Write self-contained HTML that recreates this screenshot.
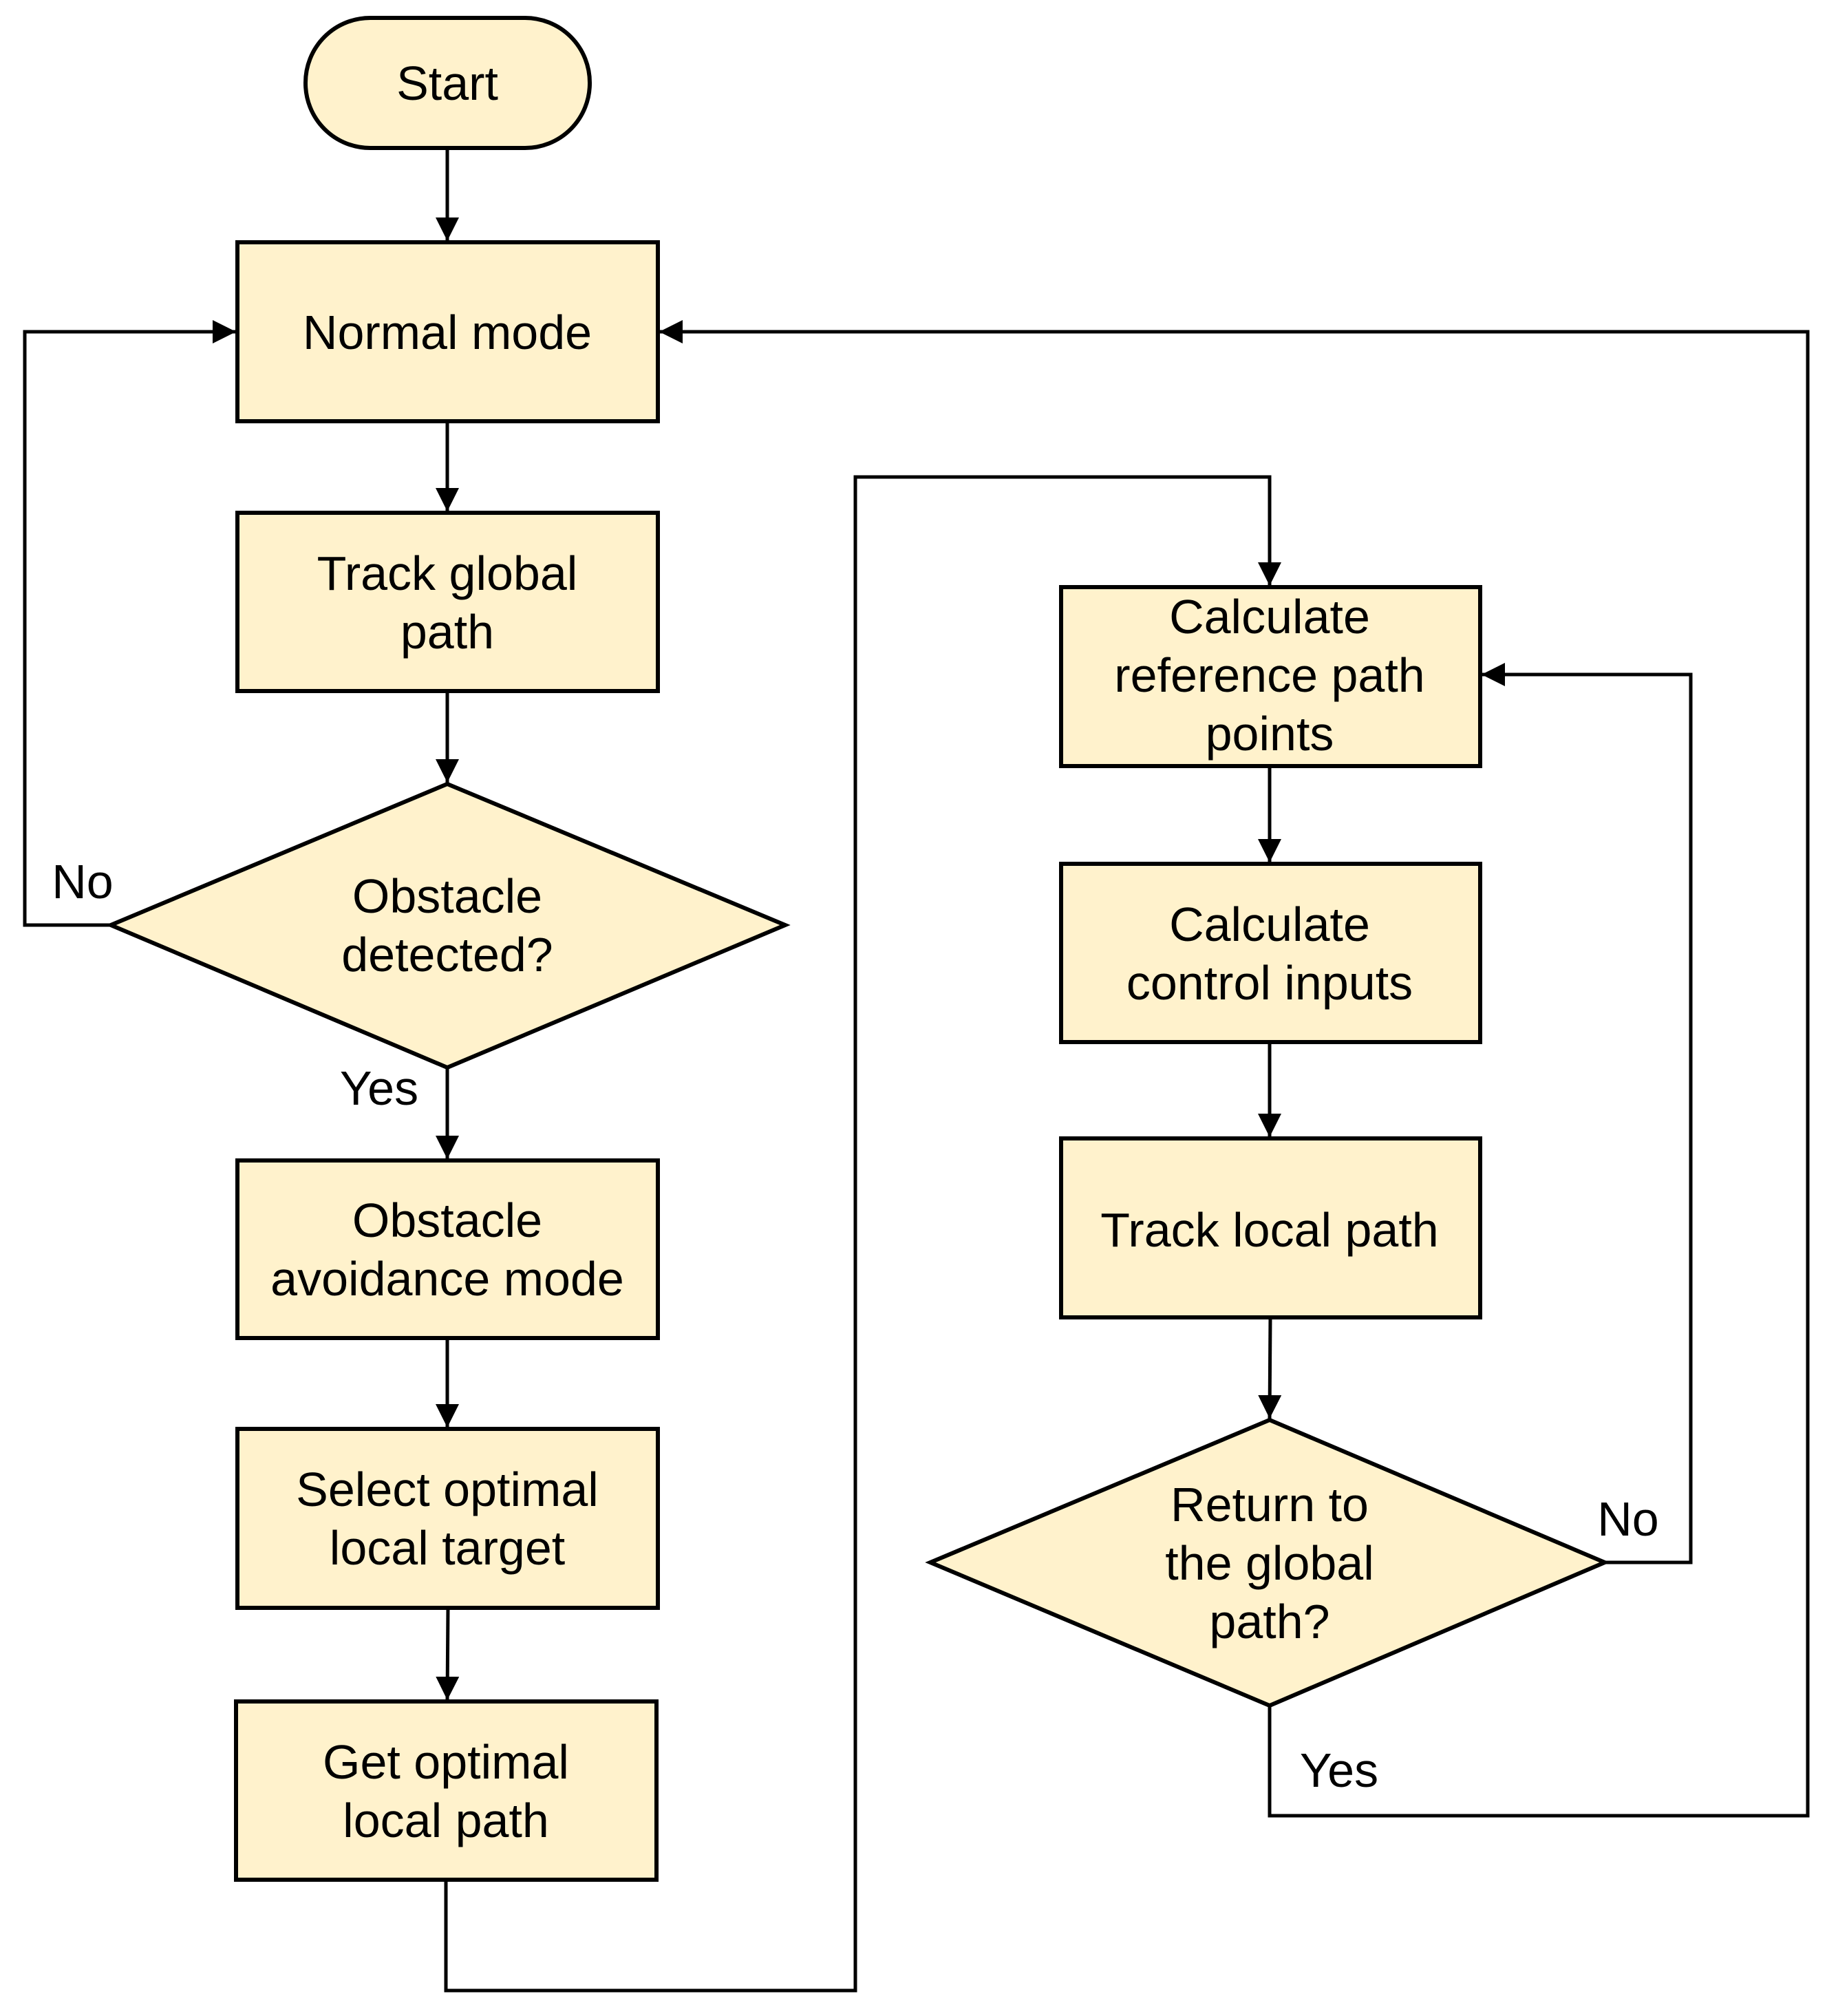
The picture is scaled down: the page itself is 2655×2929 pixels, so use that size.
<!DOCTYPE html>
<html><head><meta charset="utf-8"><style>
html,body{margin:0;padding:0;background:#fff}
svg{display:block}
text{font-family:"Liberation Sans",Arial,sans-serif;font-size:70px;fill:#000;text-anchor:middle}
</style></head><body>
<svg width="2655" height="2929" viewBox="0 0 2655 2929" xmlns="http://www.w3.org/2000/svg">
<defs>
<marker id="b" markerWidth="34" markerHeight="34" refX="34" refY="17" orient="auto" markerUnits="userSpaceOnUse" viewBox="0 0 34 34"><path d="M0,0 L34,17 L0,34 z" fill="#000"/></marker></defs>
<g stroke="#000" stroke-width="5" fill="none">
<line x1="650" y1="215" x2="650" y2="350" marker-end="url(#b)"/>
<line x1="650" y1="612" x2="650" y2="743" marker-end="url(#b)"/>
<line x1="650" y1="1004" x2="650" y2="1137" marker-end="url(#b)"/>
<line x1="650" y1="1551" x2="650" y2="1684" marker-end="url(#b)"/>
<line x1="650" y1="1944" x2="650" y2="2074" marker-end="url(#b)"/>
<line x1="651" y1="2336" x2="650" y2="2470" marker-end="url(#b)"/>
<polyline points="161,1344 36,1344 36,482 343,482" marker-end="url(#b)"/>
<polyline points="648,2731 648,2892 1243,2892 1243,693 1845,693 1845,851" marker-end="url(#b)"/>
<line x1="1845" y1="1113" x2="1845" y2="1253" marker-end="url(#b)"/>
<line x1="1845" y1="1514" x2="1845" y2="1652" marker-end="url(#b)"/>
<line x1="1846" y1="1914" x2="1845" y2="2061" marker-end="url(#b)"/>
<polyline points="2332,2270 2457,2270 2457,980 2153,980" marker-end="url(#b)"/>
<polyline points="1845,2478 1845,2638 2627,2638 2627,482 958,482" marker-end="url(#b)"/>
</g>
<g stroke="#000" stroke-width="6" fill="#fff2cc">
<rect x="444" y="26" width="413" height="189" rx="94"/>
<rect x="345" y="352" width="611" height="260"/>
<rect x="345" y="745" width="611" height="259"/>
<polygon points="650,1139 1141,1344 650,1551 161,1344"/>
<rect x="345" y="1686" width="611" height="258"/>
<rect x="345" y="2076" width="611" height="260"/>
<rect x="343" y="2472" width="611" height="259"/>
<rect x="1542" y="853" width="609" height="260"/>
<rect x="1542" y="1255" width="609" height="259"/>
<rect x="1542" y="1654" width="609" height="260"/>
<polygon points="1845,2063 2332,2270 1845,2478 1352,2270"/>
</g>
<text x="650" y="145">Start</text>
<text x="650" y="507">Normal mode</text>
<text x="650" y="857">Track global</text>
<text x="650" y="942">path</text>
<text x="650" y="1326">Obstacle</text>
<text x="650" y="1411">detected?</text>
<text x="650" y="1797">Obstacle</text>
<text x="650" y="1882">avoidance mode</text>
<text x="650" y="2188">Select optimal</text>
<text x="650" y="2273">local target</text>
<text x="648" y="2584">Get optimal</text>
<text x="648" y="2669">local path</text>
<text x="1845" y="920">Calculate</text>
<text x="1845" y="1005">reference path</text>
<text x="1845" y="1090">points</text>
<text x="1845" y="1367">Calculate</text>
<text x="1845" y="1452">control inputs</text>
<text x="1845" y="1811">Track local path</text>
<text x="1845" y="2210">Return to</text>
<text x="1845" y="2295">the global</text>
<text x="1845" y="2380">path?</text>
<text x="120" y="1305">No</text>
<text x="551" y="1605">Yes</text>
<text x="2366" y="2231">No</text>
<text x="1946" y="2596">Yes</text>
</svg>
</body></html>
